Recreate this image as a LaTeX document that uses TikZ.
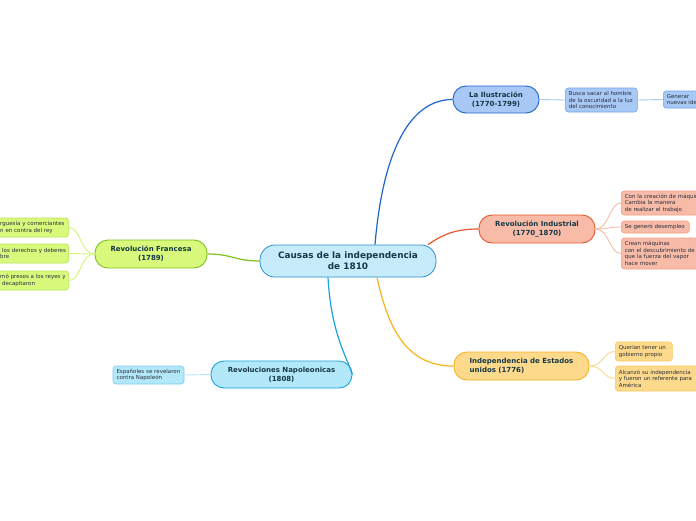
\documentclass[tikz,border=0pt]{standalone}
\usepackage{fontspec}
\setmainfont{DejaVu Sans}
\definecolor{txt}{HTML}{163846}
\definecolor{ltxt}{HTML}{2A2F3A}
\definecolor{cF}{HTML}{C6ECFB}\definecolor{cD}{HTML}{2A90D0}
\definecolor{ilF}{HTML}{A8C8F5}\definecolor{ilD}{HTML}{1F63CC}\definecolor{ilL}{HTML}{70A5EE}
\definecolor{inF}{HTML}{F8BBA8}\definecolor{inD}{HTML}{E9562B}\definecolor{inL}{HTML}{F5A088}
\definecolor{usF}{HTML}{FDD98B}\definecolor{usD}{HTML}{F6B31E}\definecolor{usL}{HTML}{FAC860}
\definecolor{frF}{HTML}{D8F97C}\definecolor{frD}{HTML}{7DC11A}\definecolor{frL}{HTML}{B8E75A}
\definecolor{naF}{HTML}{B3E7FA}\definecolor{naD}{HTML}{1AA3E0}\definecolor{naL}{HTML}{7ECDF0}
\newcommand\ml[1]{\mbox{#1}}
\tikzset{
  central/.style={draw=cD, fill=cF, rounded corners=15pt, line width=0.8pt,
    font=\bfseries\fontsize{8.9}{11}\selectfont, text=txt, align=center, inner sep=0pt,
    minimum width=176pt, minimum height=32pt},
  topic/.style={draw, rounded corners=13pt, line width=0.9pt,
    font=\bfseries\fontsize{7}{9}\selectfont, text=txt, align=center, inner sep=0pt},
  leaf/.style={draw, rounded corners=3pt, line width=0.6pt,
    font=\fontsize{5.5}{6.6}\selectfont, text=ltxt, align=left,
    inner xsep=3.5pt, inner ysep=0pt, anchor=west},
  mainline/.style={line width=1.2pt},
  leafline/.style={line width=0.9pt}
}
\begin{document}
\begin{tikzpicture}[x=1pt,y=-1pt]
\useasboundingbox[fill=white] (0,0) rectangle (696,520);

\node[central] (c) at (348,261) {Causas de la independencia\\de 1810};

% La Ilustracion
\node[topic, fill=ilF, draw=ilD, minimum width=86pt, minimum height=27pt] (il) at (496,99.5) {La Ilustración\\(1770-1799)};
\node[leaf, fill=ilF, draw=ilL, text width=65pt, minimum height=24pt] (il1) at (565,100) {\ml{Busca sacar al hombre}\\\ml{de la oscuridad a la luz}\\\ml{del conocimiento}};
\node[leaf, fill=ilF, draw=ilL, text width=60pt, minimum height=17pt] (il2) at (663,99.5) {\ml{Generar}\\\ml{nuevas ideas}};
\draw[ilD, mainline] ([xshift=27pt]c.north) .. controls +(8,-95) and +(-42,0) .. (il.west);
\draw[ilF, leafline] (il.east) -- (il1.west);
\draw[ilF, leafline] (il1.east) -- (il2.west);

% Revolucion Industrial
\node[topic, fill=inF, draw=inD, minimum width=116pt, minimum height=28pt] (in) at (537,229) {Revolución Industrial\\(1770\_1870)};
\node[leaf, fill=inF, draw=inL, text width=95pt, minimum height=24pt] (in1) at (621,203) {\ml{Con la creación de máquinas}\\\ml{Cambia la manera}\\\ml{de realizar el trabajo}};
\node[leaf, fill=inF, draw=inL, text width=61pt, minimum height=12pt] (in2) at (621,227) {\ml{Se generó desempleo}};
\node[leaf, fill=inF, draw=inL, text width=95pt, minimum height=31pt] (in3) at (621,253.5) {\ml{Crean máquinas}\\\ml{con el descubrimiento de}\\\ml{que la fuerza del vapor}\\\ml{hace mover}};
\draw[inD, mainline] ([xshift=80pt]c.north) .. controls +(16,-11) and +(-22,0) .. (in.west);
\draw[inF, leafline] (in.east) .. controls +(14,0) and +(-12,0) .. (in1.west);
\draw[inF, leafline] (in.east) .. controls +(14,0) and +(-12,0) .. (in2.west);
\draw[inF, leafline] (in.east) .. controls +(14,0) and +(-12,0) .. (in3.west);

% Independencia de Estados unidos
\node[topic, fill=usF, draw=usD, minimum width=135pt, minimum height=28pt, align=left] (us) at (521.5,366) {Independencia de Estados\\unidos (1776)};
\node[leaf, fill=usF, draw=usL, text width=50pt, minimum height=19pt] (us1) at (615,351.5) {\ml{Querian tener un}\\\ml{gobierno propio}};
\node[leaf, fill=usF, draw=usL, text width=95pt, minimum height=25pt] (us2) at (615,378.5) {\ml{Alcanzó su independencia}\\\ml{y fueron un referente para}\\\ml{América}};
\draw[usD, mainline] ([xshift=29pt]c.south) .. controls +(12,55) and +(-45,0) .. (us.west);
\draw[usF, leafline] (us.east) .. controls +(14,0) and +(-12,0) .. (us1.west);
\draw[usF, leafline] (us.east) .. controls +(14,0) and +(-12,0) .. (us2.west);

% Revolucion Francesa
\node[leaf, anchor=east, fill=frF, draw=frL, text width=65pt, minimum height=19pt] (fr1) at (69,227.5) {\ml{rguesía y comerciantes}\\\ml{n en contra del rey}};
\node[leaf, anchor=east, fill=frF, draw=frL, text width=65pt, minimum height=19pt] (fr2) at (69,253.5) {\ml{\hspace*{2pt}los derechos y deberes}\\\ml{bre}};
\node[leaf, anchor=east, fill=frF, draw=frL, text width=65pt, minimum height=19pt] (fr3) at (69,280.5) {\ml{mó presos a los reyes y}\\\ml{\hspace*{2pt}decapitaron}};
\node[topic, fill=frF, draw=frD, minimum width=112pt, minimum height=28pt] (fr) at (151,254) {Revolución Francesa\\(1789)};
\draw[frD, mainline] (c.west) .. controls +(-25,0) and +(25,0) .. (fr.east);
\draw[frF!80!frL, leafline] (fr.west) .. controls +(-14,0) and +(12,0) .. (fr1.east);
\draw[frF!80!frL, leafline] (fr.west) .. controls +(-14,0) and +(12,0) .. (fr2.east);
\draw[frF!80!frL, leafline] (fr.west) .. controls +(-14,0) and +(12,0) .. (fr3.east);

% Revoluciones Napoleonicas
\node[topic, fill=naF, draw=naD, minimum width=141pt, minimum height=27pt] (na) at (281.5,374.5) {Revoluciones Napoleonicas\\(1808)};
\node[leaf, anchor=center, fill=naF, draw=naL, text width=64pt, minimum height=18pt] (na1) at (148.5,375) {\ml{Españoles se revelaron}\\\ml{contra Napoleón}};
\draw[naD, mainline] ([xshift=-20pt]c.south) .. controls +(3,55) and +(-6,-18) .. (na.east);
\draw[naF, leafline] (na.west) -- (na1.east);
\end{tikzpicture}
\end{document}
